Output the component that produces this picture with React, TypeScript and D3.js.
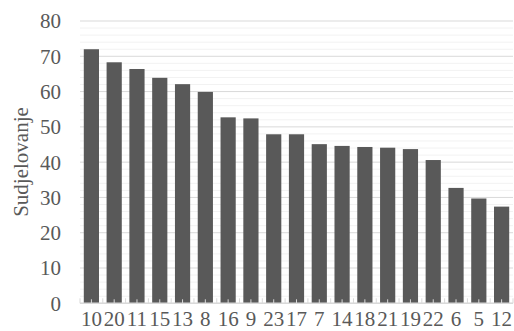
import React from "react";
import * as d3 from "d3";

const categories = ["10","20","11","15","13","8","16","9","23","17","7","14","18","21","19","22","6","5","12"];
const values = [72.0,68.3,66.4,63.9,62.1,59.9,52.7,52.4,47.9,47.9,45.1,44.6,44.3,44.1,43.7,40.6,32.7,29.7,27.4];
const majorTicks = [0,10,20,30,40,50,60,70,80];
const yLabel = "Sudjelovanje";

export default function App() {
  const W = 514, H = 331;
  const left = 80, right = 513, top = 21, bottom = 303.3;
  const x = d3.scaleBand<string>().domain(categories).range([left, right]).paddingInner(1/3).paddingOuter(1/6);
  const y = d3.scaleLinear().domain([0, 80]).range([bottom, top]);
  const minor = d3.range(0, 81, 2).filter(v => v % 10 !== 0);
  const step = x.step();
  const ff = "'Times New Roman', 'Liberation Serif', Times, serif";
  return (
    <svg width={W} height={H} style={{ position: "absolute", left: 0, top: 0 }} fontFamily={ff} fontSize={21}>
      <rect width={W} height={H} fill="#fff" />
      {minor.map(v => (
        <line key={"m"+v} x1={left} x2={right} y1={y(v)} y2={y(v)} stroke="#f2f2f2" strokeWidth={1} />
      ))}
      {majorTicks.map(v => (
        <line key={"M"+v} x1={left} x2={right} y1={y(v)} y2={y(v)} stroke="#d9d9d9" strokeWidth={1} />
      ))}
      {categories.map((c, i) => (
        <rect key={c} x={x(c)} y={y(values[i])} width={x.bandwidth()} height={bottom - y(values[i])} fill="#595959" />
      ))}
      <line x1={left} x2={right} y1={bottom} y2={bottom} stroke="#d9d9d9" strokeWidth={1.5} />
      {categories.map((c, i) => (
        <g key={"t"+c}>
          <line x1={left + i*step} x2={left + i*step} y1={bottom} y2={bottom-5} stroke="#d9d9d9" />
          <line x1={x(c)! + x.bandwidth()/2} x2={x(c)! + x.bandwidth()/2} y1={bottom} y2={bottom-4} stroke="#d9d9d9" />
        </g>
      ))}
      <line x1={right} x2={right} y1={bottom} y2={bottom-5} stroke="#d9d9d9" />
      {majorTicks.map(v => (
        <text key={"yl"+v} x={61} y={y(v)} dy="0.35em" textAnchor="end" fill="#595959">{v}</text>
      ))}
      {categories.map(c => (
        <text key={"xl"+c} x={x(c)! + x.bandwidth()/2} y={326} textAnchor="middle" fill="#595959">{c}</text>
      ))}
      <text transform={`translate(28,162) rotate(-90)`} textAnchor="middle" fill="#595959">{yLabel}</text>
    </svg>
  );
}
